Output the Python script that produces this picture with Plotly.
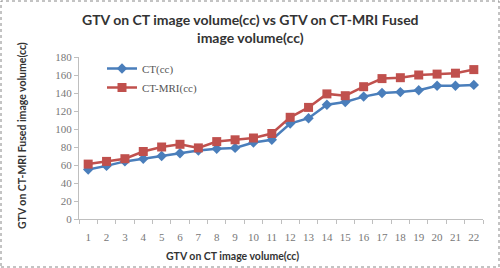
import plotly.graph_objects as go

categories = list(range(1, 23))
tick_labels = [str(c) for c in categories]
ct_values = [55, 59, 64, 67, 70, 73, 76, 78, 79, 85, 88, 106, 112, 127, 130, 136, 140, 141, 143, 148, 148, 149]
ctmri_values = [61, 64, 67, 75, 80, 83, 79, 86, 88, 90, 95, 113, 124, 139, 137, 147, 156, 157, 160, 161, 162, 166]
y_ticks = list(range(0, 181, 20))

W, H = 500, 268
ML, MR, MT, MB = 79, 17, 57, 49
pw, ph = W - ML - MR, H - MT - MB

fig = go.Figure()
fig.add_trace(go.Scatter(
    x=categories, y=ct_values, name="CT(cc)", mode="lines+markers",
    line=dict(color="#4A7EBB", width=2.5),
    marker=dict(symbol="diamond", size=8, color="#4A7EBB"),
))
fig.add_trace(go.Scatter(
    x=categories, y=ctmri_values, name="CT-MRI(cc)", mode="lines+markers",
    line=dict(color="#C0504D", width=2.5),
    marker=dict(symbol="square", size=9, color="#C0504D"),
))

tick_font = dict(family="Liberation Serif", size=11, color="#777777")

fig.update_layout(
    width=W, height=H,
    margin=dict(l=ML, r=MR, t=MT, b=MB),
    paper_bgcolor="white", plot_bgcolor="white",
    showlegend=True,
    legend=dict(x=(102 - ML) / pw, y=1 + 3 / ph, xanchor="left", yanchor="top",
                font=dict(family="Liberation Serif", size=11, color="#555555"),
                bgcolor="rgba(0,0,0,0)", itemwidth=30, tracegroupgap=0),
    xaxis=dict(range=[0.5, 22.5], tickvals=categories, ticktext=tick_labels,
               showgrid=False, zeroline=False, showline=True, linecolor="#BFBFBF", linewidth=1,
               ticks="", tickfont=tick_font, ticklabelstandoff=8,
               minor=dict(tick0=0.5, dtick=1, ticks="outside", ticklen=4, tickcolor="#BFBFBF", showgrid=False)),
    yaxis=dict(range=[0, 180], tickvals=y_ticks, showgrid=False, zeroline=False,
               showline=True, linecolor="#BFBFBF", linewidth=1,
               ticks="outside", ticklen=4, tickcolor="#BFBFBF", tickfont=tick_font),
    font=dict(family="Lato"),
)

# Title
fig.add_annotation(text="<b>GTV on CT image volume(cc) vs GTV on CT-MRI Fused<br>image volume(cc)</b>",
                   xref="paper", yref="paper", x=(250 - ML) / pw, y=1 + (MT - 9) / ph,
                   xanchor="center", yanchor="top", showarrow=False,
                   font=dict(family="Lato", size=14, color="#333333"))
# X axis title
fig.add_annotation(text="<b>GTV on CT image volume(cc)</b>",
                   xref="paper", yref="paper", x=(232 - ML) / pw, y=-(256 - MT - ph) / ph,
                   xanchor="center", yanchor="middle", showarrow=False,
                   font=dict(family="Lato", size=10.5, color="#333333"))
# Y axis title
fig.add_annotation(text="<b>GTV on CT-MRI Fused image volume(cc)</b>",
                   xref="paper", yref="paper", x=(22 - ML) / pw, y=1 - (136 - MT) / ph,
                   xanchor="center", yanchor="middle", showarrow=False, textangle=-90,
                   font=dict(family="Lato", size=10.5, color="#333333"))

# Outer dashed frame
fig.add_shape(type="rect", xref="paper", yref="paper",
              x0=(1 - ML) / pw, x1=(W - 1 - ML) / pw,
              y0=-(MB - 1) / ph, y1=1 + (MT - 1) / ph,
              line=dict(color="#888888", width=1, dash="dot"))

fig.write_html("out.html", config={"displayModeBar": False},
               post_script="document.body.style.margin='0';document.body.style.overflow='hidden';")
